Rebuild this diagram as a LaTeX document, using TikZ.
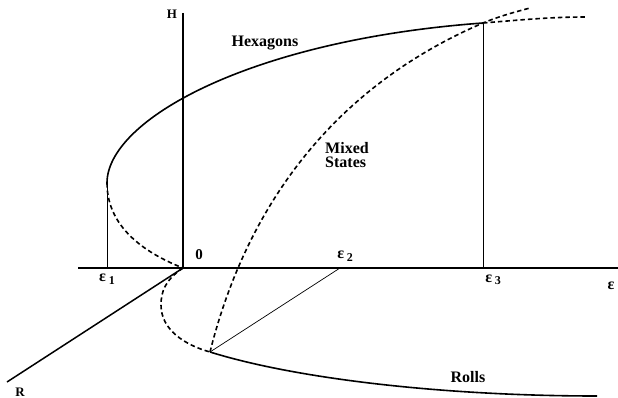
\documentclass[tikz,border=0pt]{standalone}
\usepackage{fontspec}
\setmainfont{Liberation Serif}
\begin{document}
\begin{tikzpicture}[x=1pt,y=-1pt,
  axis/.style={line width=1.5pt},
  branch/.style={line width=1.6pt},
  unstable/.style={line width=1.6pt, dash pattern=on 4.5pt off 3pt},
  guide/.style={line width=0.7pt},
  lbl/.style={font=\bfseries\fontsize{16}{14.5}\selectfont, inner sep=0pt},
  axlbl/.style={font=\bfseries\fontsize{14}{15}\selectfont, inner sep=0pt},
  eps/.style={font=\bfseries\fontsize{16}{16}\selectfont, inner sep=0pt}]
\newcommand{\epsub}[1]{ε\,\raisebox{-0.35ex}{\fontsize{12}{12}\selectfont #1}}
\useasboundingbox (0,0) rectangle (618,398);
% key points
\coordinate (O) at (183,268);
\coordinate (Htop) at (183,13);
\coordinate (Eleft) at (78,268);
\coordinate (Eright) at (618,268);
\coordinate (Rend) at (7,382);
\coordinate (N1) at (107,183);
\coordinate (E1) at (107,268);
\coordinate (T3) at (483,23);
\coordinate (E3) at (483,268);
\coordinate (E2) at (340,268);
\coordinate (N2) at (210,352);
\coordinate (Hexend) at (585,17);
\coordinate (Mixend) at (530,8);
\coordinate (Rollend) at (597,396);
% axes
\draw[axis] (Htop) -- (O);
\draw[axis] (Eleft) -- (Eright);
\draw[axis] (O) -- (Rend);
% guide lines
\draw[guide] (E1) -- (N1);
\draw[guide] (E3) -- (T3);
\draw[guide] (E2) -- (N2);
% hexagons
\draw[branch] (N1) .. controls (107,120) and (250,40) .. (T3);
\draw[unstable] (T3) .. controls (520,20) and (550,17) .. (Hexend);
\draw[unstable] (N1) .. controls (107,230) and (150,255) .. (O);
% rolls
\draw[unstable] (O) .. controls (165,280) and (161,292) .. (161,305)
                    .. controls (161,330) and (185,345) .. (N2);
\draw[branch] (N2) .. controls (300,380) and (450,396) .. (Rollend);
% mixed states
\draw[unstable] (N2) .. controls (240,232) and (313,96) .. (T3)
                     .. controls (500,16) and (515,12) .. (Mixend);
% labels
\node[axlbl, font=\bfseries\fontsize{13}{14}\selectfont] (lH) at (172,14) {H};
\node[lbl] (lHex) at (265,43) {Hexagons};
\node[lbl, anchor=north west, align=left] (lMix) at (325,142) {Mixed\\States};
\node[lbl] (lRolls) at (468,377) {Rolls};
\node[axlbl, font=\bfseries\fontsize{15}{15}\selectfont] (l0) at (199,255) {0};
\node[axlbl, font=\bfseries\fontsize{13}{14}\selectfont] (lR) at (20,392) {R};
\node[eps] (le1) at (107,279) {\epsub{1}};
\node[eps] (le2) at (345,256) {\epsub{2}};
\node[eps] (le3) at (493,280) {\epsub{3}};
\node[eps] (le) at (611,286) {ε};
\end{tikzpicture}
\end{document}
